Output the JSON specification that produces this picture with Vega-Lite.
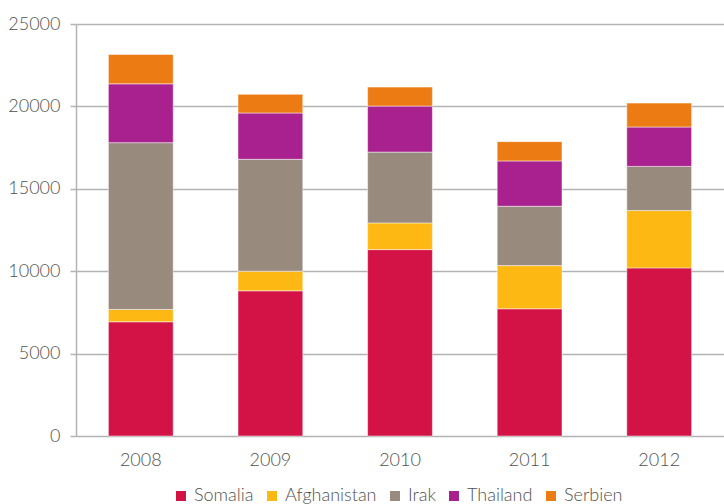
{
  "$schema": "https://vega.github.io/schema/vega-lite/v6.json",
  "width": 648,
  "height": 412,
  "autosize": {"type": "none"},
  "padding": {"left": 76, "top": 24, "right": 0, "bottom": 68},
  "background": "white",
  "config": {
    "view": {"stroke": null},
    "font": "Lato",
    "axis": {"labelFont": "Lato", "labelColor": "#505050", "labelFontSize": 18, "labelFontWeight": 300}
  },
  "data": {
    "values": [
      {"year": "2008", "country": "Somalia", "value": 6930},
      {"year": "2008", "country": "Afghanistan", "value": 750},
      {"year": "2008", "country": "Irak", "value": 10120},
      {"year": "2008", "country": "Thailand", "value": 3570},
      {"year": "2008", "country": "Serbien", "value": 1780},
      {"year": "2009", "country": "Somalia", "value": 8810},
      {"year": "2009", "country": "Afghanistan", "value": 1190},
      {"year": "2009", "country": "Irak", "value": 6790},
      {"year": "2009", "country": "Thailand", "value": 2810},
      {"year": "2009", "country": "Serbien", "value": 1130},
      {"year": "2010", "country": "Somalia", "value": 11310},
      {"year": "2010", "country": "Afghanistan", "value": 1620},
      {"year": "2010", "country": "Irak", "value": 4300},
      {"year": "2010", "country": "Thailand", "value": 2790},
      {"year": "2010", "country": "Serbien", "value": 1150},
      {"year": "2011", "country": "Somalia", "value": 7720},
      {"year": "2011", "country": "Afghanistan", "value": 2620},
      {"year": "2011", "country": "Irak", "value": 3600},
      {"year": "2011", "country": "Thailand", "value": 2750},
      {"year": "2011", "country": "Serbien", "value": 1170},
      {"year": "2012", "country": "Somalia", "value": 10200},
      {"year": "2012", "country": "Afghanistan", "value": 3480},
      {"year": "2012", "country": "Irak", "value": 2680},
      {"year": "2012", "country": "Thailand", "value": 2390},
      {"year": "2012", "country": "Serbien", "value": 1450}
    ]
  },
  "transform": [
    {"calculate": "indexof(['Somalia','Afghanistan','Irak','Thailand','Serbien'], datum.country)", "as": "stackOrder"}
  ],
  "mark": {"type": "bar", "stroke": "white", "strokeWidth": 0.6, "strokeOpacity": 0.8},
  "encoding": {
    "x": {
      "field": "year", "type": "nominal", "title": null,
      "scale": {"paddingInner": 0.5, "paddingOuter": 0.25},
      "axis": {"labelAngle": 0, "ticks": false, "domain": false, "labelPadding": 15}
    },
    "y": {
      "field": "value", "type": "quantitative", "title": null, "stack": "zero",
      "scale": {"domain": [0, 25000], "nice": false},
      "axis": {
        "values": [0, 5000, 10000, 15000, 20000, 25000], "format": "d",
        "grid": true, "gridColor": "#b3b3b3", "gridWidth": 1.5,
        "domain": true, "domainColor": "#b3b3b3", "domainWidth": 1.5,
        "ticks": true, "tickColor": "#b3b3b3", "tickSize": 6, "tickWidth": 1.5,
        "labelPadding": 10
      }
    },
    "order": {"field": "stackOrder", "type": "quantitative", "sort": "ascending"},
    "color": {
      "field": "country", "type": "nominal", "title": null,
      "sort": ["Somalia", "Afghanistan", "Irak", "Thailand", "Serbien"],
      "scale": {
        "domain": ["Somalia", "Afghanistan", "Irak", "Thailand", "Serbien"],
        "range": ["#D31245", "#FDB813", "#998A7E", "#A8218E", "#EC7B13"]
      },
      "legend": {
        "orient": "none", "legendX": 96, "legendY": 463, "padding": 0,
        "direction": "horizontal", "symbolType": "square",
        "symbolSize": 100, "symbolStrokeWidth": 0, "labelFontSize": 18, "labelColor": "#505050",
        "labelFont": "Lato", "labelFontWeight": 300, "columnPadding": 9, "labelOffset": 4
      }
    }
  }
}
